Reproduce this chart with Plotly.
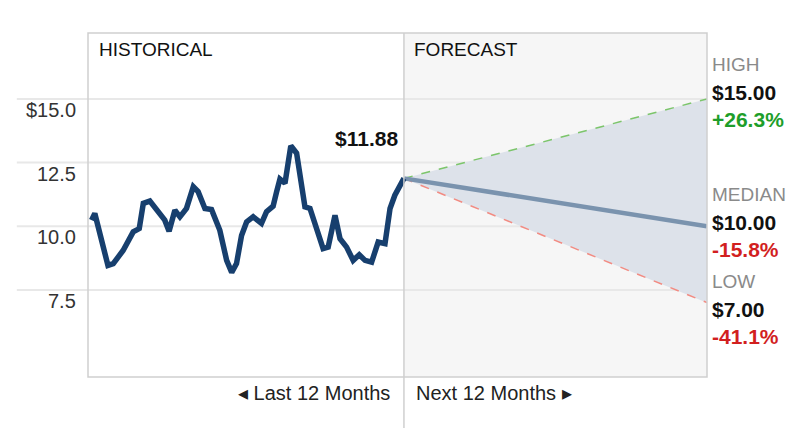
import plotly.graph_objects as go

# ---- data ----
hist_months = [-12.37, -12.24, -11.72, -11.51, -11.12, -10.72, -10.48, -10.32, -10.06, -9.66,
               -9.47, -9.30, -9.07, -8.87, -8.61, -8.34, -8.15, -7.88, -7.62, -7.29,
               -7.02, -6.82, -6.63, -6.43, -6.23, -5.97, -5.64, -5.44, -5.18, -5.04,
               -4.91, -4.71, -4.48, -4.25, -3.92, -3.72, -3.46, -3.20, -3.00, -2.73,
               -2.53, -2.27, -2.01, -1.77, -1.54, -1.28, -1.02, -0.75, -0.55, -0.36, 0.0]
hist_prices = [10.24, 10.50, 8.46, 8.53, 9.05, 9.78, 9.91, 10.90, 10.99, 10.50,
               10.24, 9.80, 10.63, 10.37, 10.70, 11.55, 11.36, 10.70, 10.66, 9.84,
               8.66, 8.19, 8.53, 9.64, 10.17, 10.37, 10.11, 10.57, 10.79, 11.36,
               11.85, 11.69, 13.16, 12.87, 10.76, 10.70, 9.97, 9.12, 9.18, 10.43,
               9.51, 9.18, 8.66, 8.88, 8.66, 8.59, 9.38, 9.32, 10.70, 11.22, 11.88]
current_price = 11.88
forecast_months = [0, 12]
forecast_names = ["HIGH", "MEDIAN", "LOW"]
forecast_targets = [15.00, 10.00, 7.00]
forecast_changes = ["+26.3%", "-15.8%", "-41.1%"]
y_ticks = [15.0, 12.5, 10.0, 7.5]
y_tick_labels = ["$15.0", "12.5", "10.0", "7.5"]

FONT = "Liberation Sans, Arial, sans-serif"
GRID = "#e8e8e8"
BORDER = "#cfcfcf"
high, med, low = forecast_targets

fig = go.Figure()

# shaded forecast cone
fig.add_trace(go.Scatter(
    x=[forecast_months[0], forecast_months[1], forecast_months[1], forecast_months[0]],
    y=[current_price, high, low, current_price],
    fill="toself", fillcolor="#dde2ea", line=dict(width=0), mode="lines",
    hoverinfo="skip", showlegend=False))
# high / low dashed
fig.add_trace(go.Scatter(x=forecast_months, y=[current_price, high], mode="lines",
                         line=dict(color="#7cc56b", width=1.5, dash="dash"), showlegend=False))
fig.add_trace(go.Scatter(x=forecast_months, y=[current_price, low], mode="lines",
                         line=dict(color="#f28b82", width=1.5, dash="dash"), showlegend=False))
# median
fig.add_trace(go.Scatter(x=forecast_months, y=[current_price, med], mode="lines",
                         line=dict(color="#7a93ae", width=4.5), showlegend=False))
# historical
fig.add_trace(go.Scatter(x=hist_months, y=hist_prices, mode="lines",
                         line=dict(color="#173f6e", width=5.5), showlegend=False))

shapes = []
# forecast panel background
shapes.append(dict(type="rect", xref="x", yref="paper", x0=0, x1=forecast_months[1], y0=0, y1=1,
                   fillcolor="#f6f6f6", line=dict(width=0), layer="below"))
# gridlines extending under tick labels
for t in y_ticks:
    shapes.append(dict(type="line", xref="paper", yref="y", x0=-0.115, x1=1, y0=t, y1=t,
                       line=dict(color=GRID, width=2), layer="below"))
# frame
shapes.append(dict(type="rect", xref="paper", yref="paper", x0=0, x1=1, y0=0, y1=1,
                   line=dict(color=BORDER, width=1.5), fillcolor="rgba(0,0,0,0)", layer="above"))
# divider extending below plot
shapes.append(dict(type="line", xref="x", yref="paper", x0=0, x1=0, y0=-0.2, y1=1,
                   line=dict(color=BORDER, width=1.5), layer="above"))

ann = []
for t, lab in zip(y_ticks, y_tick_labels):
    ann.append(dict(x=-0.016, xref="paper", y=t, yref="y", text=lab, showarrow=False,
                    xanchor="right", yanchor="middle", yshift=-11,
                    font=dict(family=FONT, size=20, color="#333333")))
ann.append(dict(x=0.014, xref="paper", y=1, yref="paper", text="HISTORICAL", showarrow=False,
                xanchor="left", yanchor="middle", yshift=-16,
                font=dict(family=FONT, size=19, color="#111111")))
ann.append(dict(x=0, xref="x", y=1, yref="paper", text="FORECAST", showarrow=False,
                xanchor="left", yanchor="middle", yshift=-16, xshift=8,
                font=dict(family=FONT, size=19, color="#111111")))
ann.append(dict(x=0, xref="x", y=current_price, yref="y", text="<b>$%.2f</b>" % current_price,
                showarrow=False, xanchor="right", yanchor="middle", xshift=-4, yshift=40,
                font=dict(family=FONT, size=21, color="#111111")))
ann.append(dict(x=0, xref="x", y=0, yref="paper", text="◂ Last 12 Months", showarrow=False,
                xanchor="right", yanchor="middle", xshift=-12, yshift=-16,
                font=dict(family=FONT, size=20, color="#222222")))
ann.append(dict(x=0, xref="x", y=0, yref="paper", text="Next 12 Months ▸", showarrow=False,
                xanchor="left", yanchor="middle", xshift=10, yshift=-16,
                font=dict(family=FONT, size=20, color="#222222")))

group_shift = [6, 4, -7]
change_colors = ["#1e9e2a", "#d21f1f", "#d21f1f"]
for name, tgt, chg, gs, cc in zip(forecast_names, forecast_targets, forecast_changes, group_shift, change_colors):
    ann.append(dict(x=1, xref="paper", y=tgt, yref="y", text=name, showarrow=False,
                    xanchor="left", yanchor="middle", xshift=3, yshift=gs + 28,
                    font=dict(family=FONT, size=19, color="#8a8a8a")))
    ann.append(dict(x=1, xref="paper", y=tgt, yref="y", text="<b>$%.2f</b>" % tgt, showarrow=False,
                    xanchor="left", yanchor="middle", xshift=3, yshift=gs,
                    font=dict(family=FONT, size=21, color="#111111")))
    ann.append(dict(x=1, xref="paper", y=tgt, yref="y", text="<b>%s</b>" % chg, showarrow=False,
                    xanchor="left", yanchor="middle", xshift=3, yshift=gs - 27,
                    font=dict(family=FONT, size=21, color=cc)))

fig.update_layout(
    width=792, height=420,
    margin=dict(l=80, r=93, t=25, b=51),
    paper_bgcolor="white", plot_bgcolor="white",
    xaxis=dict(range=[-12.51, 12], showgrid=False, zeroline=False, showticklabels=False,
               showline=False, fixedrange=True),
    yaxis=dict(range=[4.08, 17.59], showgrid=False, zeroline=False, showticklabels=False,
               showline=False, fixedrange=True),
    shapes=shapes, annotations=ann, showlegend=False,
)

fig.write_html("out.html")
